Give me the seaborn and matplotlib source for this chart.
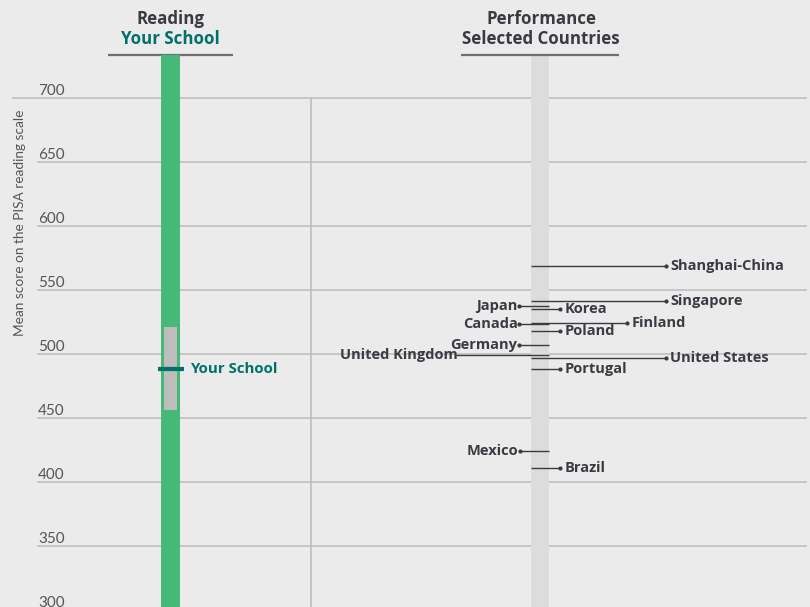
import matplotlib
matplotlib.use("Agg")
import matplotlib.pyplot as plt
import seaborn as sns
import pandas as pd

# ---------------- data ----------------
y_ticks = [300, 350, 400, 450, 500, 550, 600, 650, 700]
countries = ["Shanghai-China", "Singapore", "Japan", "Korea", "Finland", "Canada",
             "Poland", "Germany", "United Kingdom", "United States", "Portugal",
             "Mexico", "Brazil"]
scores = [569, 542, 538, 535.5, 524.5, 523.5, 518, 507.5, 499.5, 497.5, 488.5, 424.5, 411]
school_score = 488.5
school_low = 456.5
school_high = 521

# ---------------- layout (pixel-like x positions) ----------------
label_x = {"Shanghai-China": 666, "Singapore": 666, "United States": 666,
           "Korea": 560, "Poland": 560, "Portugal": 560, "Brazil": 560,
           "Finland": 627, "Japan": 519, "Canada": 519, "Germany": 519,
           "Mexico": 520, "United Kingdom": 456}
band_l, band_r = 531, 549

BG = "#EBEBEB"
GRID = "#BBBBBB"
GREEN = "#46B978"
TEAL = "#00706A"
DARK = "#3A3A42"
BOLDFONT = ["Open Sans", "DejaVu Sans"]

sns.set_theme(style="white", rc={"axes.facecolor": BG, "figure.facecolor": BG})
plt.rcParams["font.family"] = ["Lato", "DejaVu Sans"]

fig = plt.figure(figsize=(8.1, 6.07), dpi=100)
ax = fig.add_axes([0, 0, 1, 1])
ax.set_xlim(0, 810)
ymin, ymax = 302.6, 776.8
ax.set_ylim(ymin, ymax)
ax.axis("off")
fig.patch.set_facecolor(BG)

# gridlines and tick labels
for v in y_ticks:
    x0 = 12 if v == 700 else 37
    ax.hlines(v, x0, 807, color=GRID, lw=1.1, zorder=1)
    ax.text(38, v + 2.5, f"{v}", ha="left", va="baseline", fontsize=11,
            color="#555555", zorder=3)
ax.vlines(311, ymin, 700, color=GRID, lw=1.1, zorder=1)

ax.text(20, 603, "Mean score on the PISA reading scale", rotation=90,
        ha="center", va="center", fontsize=9.8, color="#555555")

# headers
top_bar = 734
hfs = 12.2
ax.text(170.5, 762, "Reading", ha="center", va="center", fontsize=hfs,
        fontweight="bold", color=DARK, family=BOLDFONT)
ax.text(170.5, 746.3, "Your School", ha="center", va="center", fontsize=hfs,
        fontweight="bold", color=TEAL, family=BOLDFONT)
ax.hlines(top_bar, 108, 233, color="#6E6E6E", lw=1.6, zorder=2)
ax.text(541, 762, "Performance", ha="center", va="center", fontsize=hfs,
        fontweight="bold", color=DARK, family=BOLDFONT)
ax.text(541, 746.3, "Selected Countries", ha="center", va="center", fontsize=hfs,
        fontweight="bold", color=DARK, family=BOLDFONT)
ax.hlines(top_bar, 461, 619, color="#6E6E6E", lw=1.6, zorder=2)

# school column
ax.bar([170.5], [top_bar - ymin], bottom=ymin, width=19, color=GREEN, zorder=2,
       linewidth=0)
ax.bar([170.5], [school_high - school_low], bottom=school_low, width=13,
       color="#BDBDBB", zorder=3, linewidth=0)
ax.hlines(school_score, 158, 184, color=TEAL, lw=3, zorder=4)
ax.text(190, school_score, "Your School", ha="left", va="center", fontsize=10.8,
        fontweight="bold", color=TEAL, family=BOLDFONT)

# countries band
ax.bar([(band_l + band_r) / 2], [top_bar - ymin], bottom=ymin,
       width=band_r - band_l, color="#DCDCDC", zorder=1.5, linewidth=0)

df = pd.DataFrame({"country": countries, "score": scores})
df["lx"] = df["country"].map(label_x)
df["right"] = df["lx"] > 540
dots = df[df["country"] != "United Kingdom"]

cfs = 10.5
for _, r in df.iterrows():
    if r["right"]:
        ax.hlines(r["score"], band_l, r["lx"], color=DARK, lw=1.0, zorder=4)
        ax.text(r["lx"] + 4.5, r["score"], r["country"], ha="left", va="center",
                fontsize=cfs, fontweight="bold", color=DARK, zorder=5,
                family=BOLDFONT)
    else:
        ax.hlines(r["score"], r["lx"], band_r, color=DARK, lw=1.0, zorder=4)
        ax.text(r["lx"] - 1.5 + (3 if r["country"] == "United Kingdom" else 0),
                r["score"], r["country"], ha="right", va="center",
                fontsize=cfs, fontweight="bold", color=DARK, zorder=5,
                family=BOLDFONT)

sns.scatterplot(data=dots, x="lx", y="score", ax=ax, color=DARK, s=9,
                linewidth=0, zorder=6, legend=False)
ax.set_xlim(0, 810)
ax.set_ylim(ymin, ymax)
ax.axis("off")

fig.savefig("out.png", dpi=100, facecolor=BG)
